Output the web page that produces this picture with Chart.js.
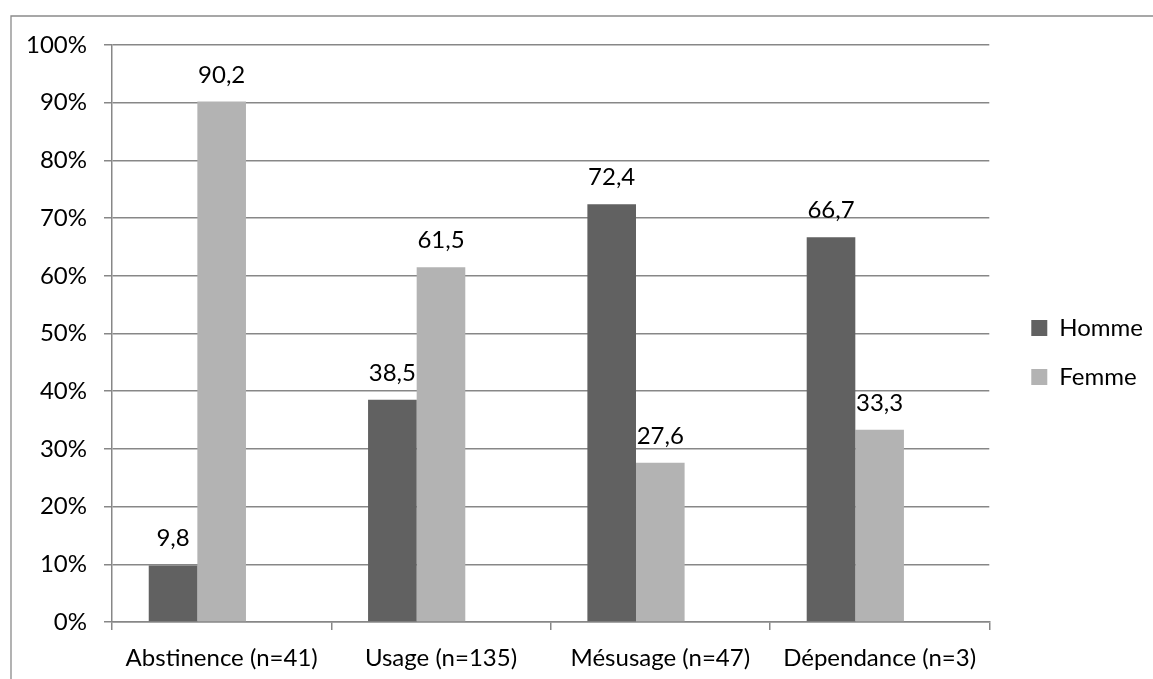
<!DOCTYPE html>
<html>
<head>
<meta charset="utf-8">
<script src="https://cdn.jsdelivr.net/npm/chart.js@4"></script>
<style>
  html, body { margin: 0; padding: 0; background: #fff; }
  #wrap { position: relative; width: 1153px; height: 679px; }
</style>
</head>
<body>
<div id="wrap"><canvas id="c" width="1153" height="679"></canvas></div>
<script>
const categories = ['Abstinence (n=41)', 'Usage (n=135)', 'Mésusage (n=47)', 'Dépendance (n=3)'];
const hommeValues = [9.8, 38.5, 72.4, 66.7];
const femmeValues = [90.2, 61.5, 27.6, 33.3];
const emptyValues = [null, null, null, null];
const seriesNames = ['Homme', 'Femme'];
const yTickValues = [0, 10, 20, 30, 40, 50, 60, 70, 80, 90, 100];

const FONT = 'Lato';
const GRID = '#878787';

const frame = {
  id: 'frame',
  beforeDraw(chart) {
    const ctx = chart.ctx;
    ctx.save();
    ctx.strokeStyle = '#8a8a8a';
    ctx.lineWidth = 1.3;
    ctx.beginPath();
    ctx.moveTo(11, 679);
    ctx.lineTo(11, 16);
    ctx.lineTo(1153, 16);
    ctx.stroke();
    ctx.restore();
  }
};

const valueLabels = {
  id: 'valueLabels',
  afterDatasetsDraw(chart) {
    const ctx = chart.ctx;
    ctx.save();
    ctx.font = '24px ' + FONT;
    ctx.fillStyle = '#000';
    ctx.textAlign = 'center';
    ctx.textBaseline = 'alphabetic';
    chart.data.datasets.forEach((ds, di) => {
      const meta = chart.getDatasetMeta(di);
      meta.data.forEach((bar, i) => {
        const v = ds.data[i];
        if (v === null || v === undefined) return;
        ctx.fillText(v.toFixed(1).replace('.', ','), bar.x, bar.y - 19);
      });
    });
    ctx.restore();
  }
};

new Chart(document.getElementById('c'), {
  type: 'bar',
  data: {
    labels: categories,
    datasets: [
      { label: seriesNames[0], data: hommeValues, backgroundColor: '#616161' },
      { label: seriesNames[1], data: femmeValues, backgroundColor: '#b3b3b3' },
      { label: '', data: emptyValues, backgroundColor: 'rgba(0,0,0,0)' }
    ]
  },
  options: {
    responsive: false,
    animation: false,
    devicePixelRatio: 1,
    categoryPercentage: 0.665,
    barPercentage: 1,
    layout: { padding: { top: 26, bottom: 0, left: 0, right: 0 } },
    plugins: {
      tooltip: { enabled: false },
      title: { display: true, text: '', font: { size: 10, lineHeight: 1 }, padding: { top: 9, bottom: 0 } },
      legend: {
        position: 'right',
        align: 'center',
        labels: {
          filter: (item) => item.text !== '',
          boxWidth: 16,
          boxHeight: 16,
          padding: 25,
          color: '#000',
          font: { family: FONT, size: 24 }
        }
      }
    },
    scales: {
      x: {
        offset: true,
        afterFit: (s) => { s.height = 57; },
        grid: { display: true, drawOnChartArea: false, drawTicks: true, tickLength: 8, color: GRID, lineWidth: 1.5, offset: true },
        border: { display: true, color: GRID, width: 1.5 },
        ticks: { color: '#000', padding: 14, font: { family: FONT, size: 24, lineHeight: 1.1667 } }
      },
      y: {
        min: 0,
        max: 100,
        afterFit: (s) => { s.width = 112; },
        afterBuildTicks: (s) => { s.ticks = yTickValues.map(v => ({ value: v })); },
        grid: { color: GRID, lineWidth: 1.5, tickLength: 8, drawTicks: true },
        border: { display: true, color: GRID, width: 1.5 },
        ticks: { color: '#000', padding: 17, font: { family: FONT, size: 24 }, callback: (v) => v + '%' }
      },
      gap: {
        type: 'linear',
        position: 'right',
        display: true,
        afterFit: (s) => { s.width = 17; },
        grid: { display: false, drawTicks: false },
        border: { display: false },
        ticks: { display: false }
      }
    }
  },
  plugins: [frame, valueLabels]
});
</script>
</body>
</html>
